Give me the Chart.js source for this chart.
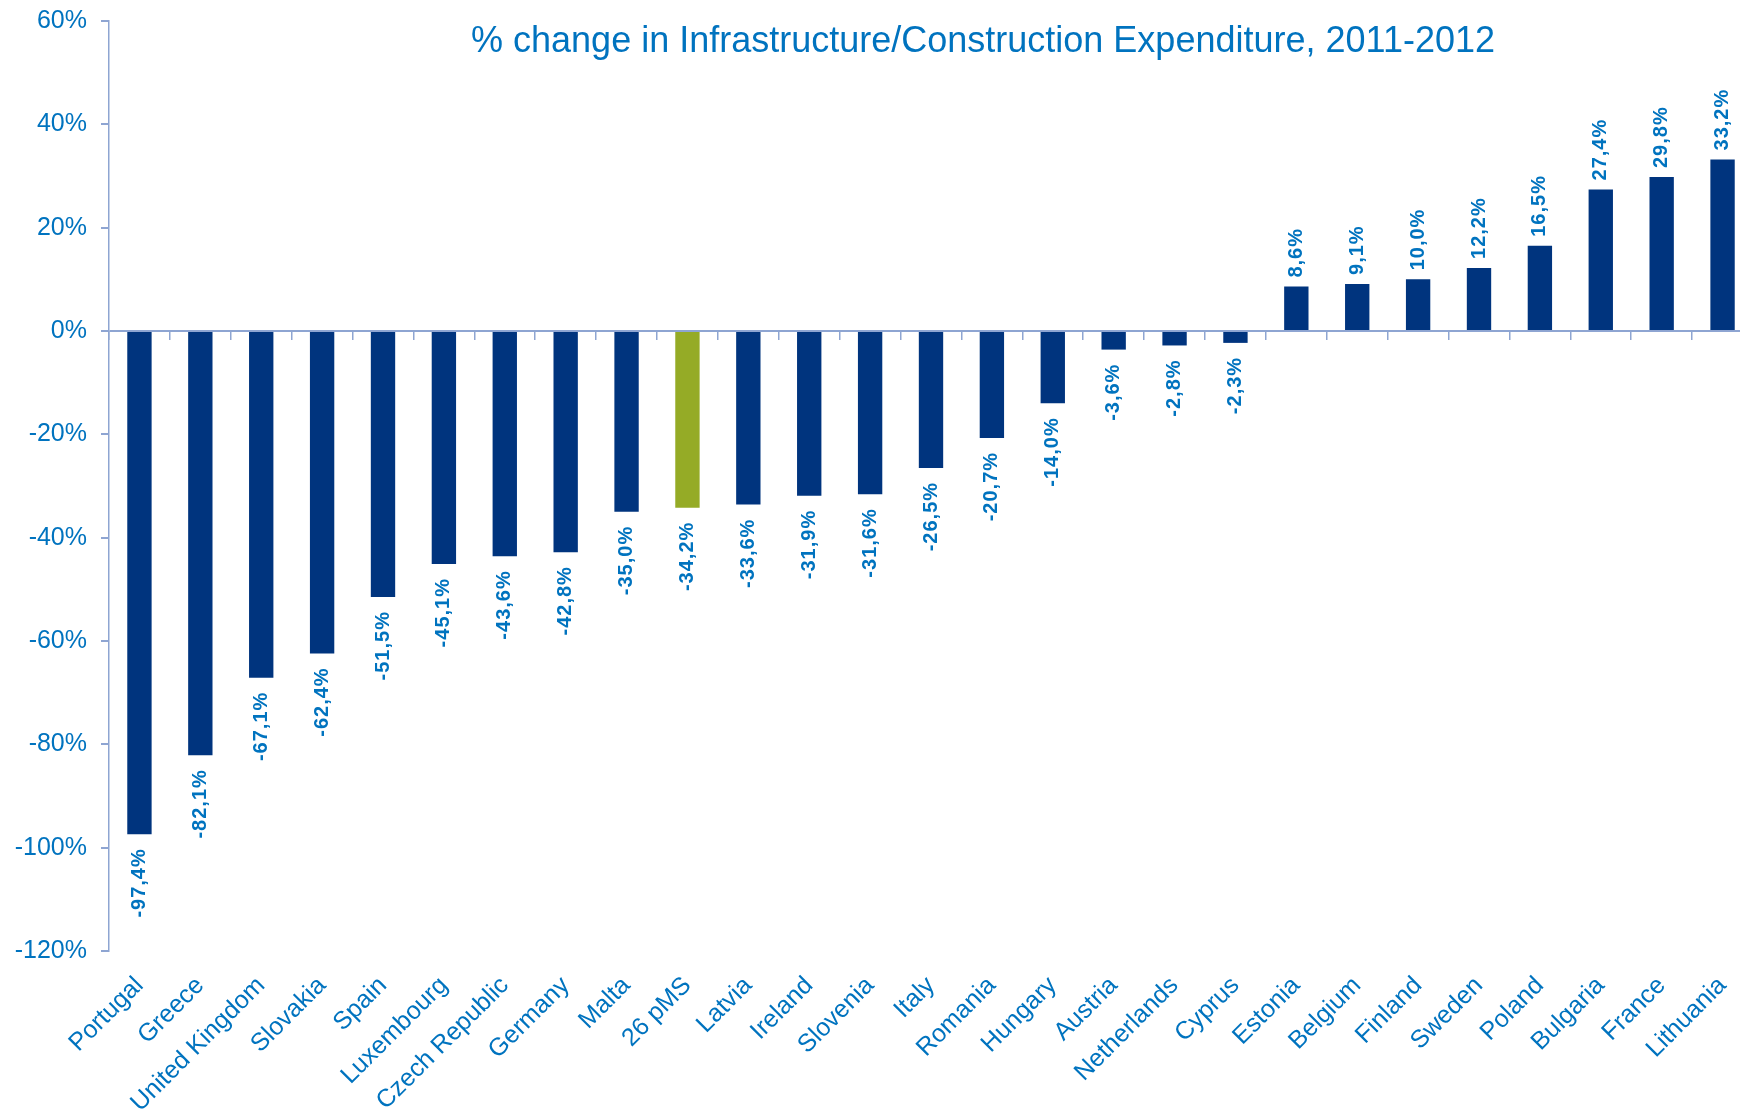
<!DOCTYPE html>
<html>
<head>
<meta charset="utf-8">
<script src="https://cdn.jsdelivr.net/npm/chart.js@4.4.1/dist/chart.umd.min.js"></script>
<style>
  body { margin: 0; overflow: hidden; background: #fff; }
  #wrap { width: 1760px; height: 1109px; }
</style>
</head>
<body>
<div id="wrap"><canvas id="chart" width="1760" height="1109"></canvas></div>
<script>
// data
const countries = ['Portugal', 'Greece', 'United Kingdom', 'Slovakia', 'Spain', 'Luxembourg', 'Czech Republic',
    'Germany', 'Malta', '26 pMS', 'Latvia', 'Ireland', 'Slovenia', 'Italy', 'Romania', 'Hungary', 'Austria',
    'Netherlands', 'Cyprus', 'Estonia', 'Belgium', 'Finland', 'Sweden', 'Poland', 'Bulgaria', 'France', 'Lithuania'];
const change = [-97.4, -82.1, -67.1, -62.4, -51.5, -45.1, -43.6, -42.8, -35.0, -34.2, -33.6, -31.9, -31.6, -26.5,
    -20.7, -14.0, -3.6, -2.8, -2.3, 8.6, 9.1, 10.0, 12.2, 16.5, 27.4, 29.8, 33.2];
const highlight = '26 pMS';
const yTicks = { min: -120, max: 60, step: 20 };
const titleText = '% change in Infrastructure/Construction Expenditure, 2011-2012';

const blueText = '#0073BF';
const navy = '#00347E';
const green = '#95AB26';
const axisColor = '#8EA5D2';
const family = '"Liberation Sans", Arial, sans-serif';

const fmt = v => v.toFixed(1).replace('.', ',') + '%';

// value labels, rotated
const valueLabels = {
    id: 'valueLabels',
    afterDatasetsDraw(chart) {
        const ctx = chart.ctx;
        const meta = chart.getDatasetMeta(0);
        ctx.save();
        ctx.fillStyle = blueText;
        ctx.font = 'bold 20px ' + family;
        ctx.letterSpacing = '1px';
        ctx.textBaseline = 'middle';
        meta.data.forEach((bar, i) => {
            const v = change[i];
            ctx.save();
            if (v >= 0) {
                ctx.translate(bar.x, bar.y - 9);
                ctx.rotate(-Math.PI / 2);
                ctx.textAlign = 'left';
            } else {
                ctx.translate(bar.x, bar.y + 14);
                ctx.rotate(-Math.PI / 2);
                ctx.textAlign = 'right';
            }
            ctx.fillText(fmt(v), 0, 0);
            ctx.restore();
        });
        ctx.restore();
    }
};

const chartTitle = {
    id: 'chartTitle',
    afterDraw(chart) {
        const ctx = chart.ctx;
        ctx.save();
        ctx.fillStyle = blueText;
        ctx.font = '36px ' + family;
        ctx.textAlign = 'center';
        ctx.textBaseline = 'alphabetic';
        ctx.fillText(titleText, 983, 52);
        ctx.restore();
    }
};

new Chart(document.querySelector('#chart'), {
    type: 'bar',
    data: {
        labels: countries,
        datasets: [{
            data: change,
            backgroundColor: countries.map(c => c === highlight ? green : navy),
            barPercentage: 0.4,
            categoryPercentage: 1
        }]
    },
    options: {
        responsive: false,
        animation: false,
        layout: { padding: { top: 21, right: 7, left: 0, bottom: 0 } },
        plugins: { legend: { display: false }, tooltip: { enabled: false } },
        scales: {
            x: {
                position: { y: 0 },
                offset: true,
                ticks: { display: false },
                grid: { offset: true, drawOnChartArea: false, drawTicks: true, tickLength: 9, color: axisColor, lineWidth: 1.5 },
                border: { display: false }
            },
            x2: {
                type: 'category',
                position: 'bottom',
                offset: true,
                grid: { display: false },
                border: { display: false },
                ticks: {
                    autoSkip: false, maxRotation: 45, minRotation: 45, padding: 12,
                    color: blueText, font: { family: family, size: 25 }
                },
                afterFit: s => { s.height = 158; }
            },
            y: {
                min: yTicks.min,
                max: yTicks.max,
                ticks: {
                    stepSize: yTicks.step, padding: 14,
                    color: blueText, font: { family: family, size: 25 },
                    callback: v => v + '%'
                },
                grid: {
                    color: ctx => ctx.tick && ctx.tick.value === 0 ? axisColor : 'transparent',
                    lineWidth: 2,
                    tickColor: axisColor,
                    tickLength: 8
                },
                border: { color: axisColor, width: 1.5 },
                afterFit: s => { s.width = 109; s.paddingTop = 0; s.paddingBottom = 0; }
            }
        }
    },
    plugins: [valueLabels, chartTitle]
});
</script>
</body>
</html>
